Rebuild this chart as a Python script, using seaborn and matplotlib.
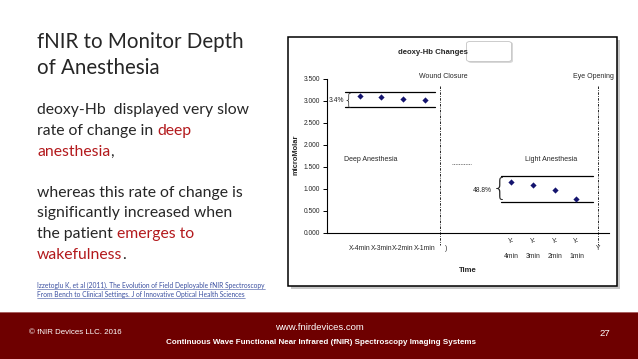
import numpy as np
import pandas as pd
import matplotlib
matplotlib.use("Agg")
import matplotlib.pyplot as plt
import seaborn as sns
from matplotlib.patches import Rectangle, FancyBboxPatch

# Data
categories = ["", "X-4min", "X-3min", "X-2min", "X-1min", ")", "", "",
              "Y-\n4min", "Y-\n3min", "Y-\n2min", "Y-\n1min", "Y"]
deoxy_hb = [np.nan, 3.11, 3.09, 3.04, 3.02, np.nan, np.nan, np.nan,
            1.15, 1.08, 0.98, 0.77, np.nan]
y_ticks = [0.0, 0.5, 1.0, 1.5, 2.0, 2.5, 3.0, 3.5]

W, H = 638, 359
NARROW = ["Liberation Sans", "DejaVu Sans"]

sns.set_style("white")
plt.rcParams["font.family"] = NARROW

fig = plt.figure(figsize=(W / 100, H / 100), dpi=100)
fig.patch.set_facecolor("white")


def fx(px):
    return px / W


def fy(py):
    return 1 - py / H


# Footer band
fig.patches.append(Rectangle((0, 0), 1, fy(311.5), transform=fig.transFigure,
                             facecolor="#6e0000", edgecolor="none", zorder=0))
fig.patches.append(Rectangle((0, fy(312.5)), 1, 1 / H, transform=fig.transFigure,
                             facecolor="#a86060", edgecolor="none", zorder=0))
fig.text(fx(29), fy(333), "\u00a9 fNIR Devices LLC. 2016", color="white",
         fontsize=5.7, va="center")
fig.text(fx(319), fy(327), "www.fnirdevices.com", color="white",
         fontsize=6.8, va="center", ha="center")
fig.text(fx(321), fy(342), "Continuous Wave Functional Near Infrared (fNIR) Spectroscopy Imaging Systems",
         color="white", fontsize=5.8, va="center", ha="center", weight="bold")
fig.text(fx(605), fy(333), "27", color="white", fontsize=6.8, va="center", ha="center")

# Chart frame with shadow
fig.patches.append(Rectangle((fx(291), fy(289)), fx(617) - fx(288), fy(37) - fy(286),
                             transform=fig.transFigure, facecolor="#c8c8c8",
                             edgecolor="none", zorder=0))
fig.patches.append(Rectangle((fx(288), fy(286)), fx(617) - fx(288), fy(37) - fy(286),
                             transform=fig.transFigure, facecolor="white",
                             edgecolor="black", lw=1.1, zorder=0))

# Small empty box next to the chart title
fig.patches.append(FancyBboxPatch((fx(468), fy(63)), fx(45), 21 / H,
                                  boxstyle="round,pad=0,rounding_size=0.006",
                                  transform=fig.transFigure, facecolor="#d8d8d8",
                                  edgecolor="none", zorder=1))
fig.patches.append(FancyBboxPatch((fx(466.5), fy(61.5)), fx(45), 20 / H,
                                  boxstyle="round,pad=0,rounding_size=0.006",
                                  transform=fig.transFigure, facecolor="white",
                                  edgecolor="#c4c4c4", lw=0.6, zorder=1))

# Chart
ax = fig.add_axes([fx(327), fy(232.7), fx(609) - fx(327), fy(78.7) - fy(232.7)])
ax.set_zorder(3)
ax.set_facecolor("none")
df = pd.DataFrame({"pos": np.arange(len(categories)), "value": deoxy_hb})
sns.scatterplot(data=df, x="pos", y="value", marker="D", color="#14146e",
                s=10, edgecolor="#14146e", linewidth=0, ax=ax, zorder=5)

ax.set_xlim(-0.5, len(categories) - 0.5)
ax.set_ylim(0, 3.5)
ax.set_xticks(np.arange(-0.5, len(categories), 1.0))
ax.set_xticklabels([])
ax.set_xticks(np.arange(len(categories)), labels=categories, minor=True)
ax.tick_params(axis="x", which="major", direction="out", length=3, width=0.7, color="black")
ax.tick_params(axis="x", which="minor", length=0, pad=11.7, labelsize=4.9)
ax.set_yticks(y_ticks, labels=[f"{v:.3f}" for v in y_ticks])
ax.tick_params(axis="y", direction="out", length=3, width=0.7, labelsize=4.8, pad=2,
               color="black", left=True)
for lab in ax.get_xticklabels(minor=True):
    lab.set_verticalalignment("center")
    lab.set_linespacing(2.45)
for side in ["top", "right"]:
    ax.spines[side].set_visible(False)
for side in ["left", "bottom"]:
    ax.spines[side].set_color("black")
    ax.spines[side].set_linewidth(0.8)
ax.set_xlabel("")
ax.set_ylabel("")

fig.text(fx(433), fy(52), "deoxy-Hb Changes", ha="center", va="center",
         fontsize=5.6, weight="bold", zorder=4)
fig.text(fx(296), fy(155), "microMolar", ha="center", va="center", rotation=90,
         fontsize=5.4, weight="bold", zorder=4)
fig.text(fx(468), fy(271), "Time", ha="center", va="center", fontsize=5.6,
         weight="bold", zorder=4)

# Annotations inside the plot
ax.text(4.86, 3.47, "Wound Closure", ha="center", va="bottom", fontsize=5.0)
ax.text(11.77, 3.47, "Eye Opening", ha="center", va="bottom", fontsize=5.0)
ax.text(1.5, 1.67, "Deep Anesthesia", ha="center", va="center", fontsize=5.0)
ax.text(9.84, 1.67, "Light Anesthesia", ha="center", va="center", fontsize=5.0)
ax.plot([5.28, 6.15], [1.56, 1.56], color="#555555", lw=0.6, ls=(0, (1, 1)))
for xv in [4.72, 12.0]:
    ax.plot([xv, xv], [3.33, -0.28], color="black", lw=0.6,
            ls=(0, (3, 1.5, 1, 1.5)), clip_on=False)

ax.plot([0.35, 4.49], [3.2, 3.2], color="black", lw=0.9)
ax.plot([0.35, 4.49], [2.85, 2.85], color="black", lw=0.9)
ax.plot([7.53, 11.77], [1.29, 1.29], color="black", lw=0.9)
ax.plot([7.53, 11.77], [0.69, 0.69], color="black", lw=0.9)
ax.text(0.48, 3.03, "{", ha="center", va="center", fontsize=11,
        family=["DejaVu Sans"], fontweight="light")
ax.text(7.46, 0.99, "{", ha="center", va="center", fontsize=18,
        family=["DejaVu Sans"], fontweight="light")
ax.text(0.31, 3.01, "3.4%", ha="right", va="center", fontsize=4.9)
ax.text(7.08, 0.96, "48.8%", ha="right", va="center", fontsize=4.9)

# Left-hand slide text
renderer = fig.canvas.get_renderer()
DARK = "#262626"
RED = "#b3191c"
SANS = ["Lato", "DejaVu Sans"]


def rich_line(px, py, parts, size):
    x = fx(px)
    for txt, col in parts:
        t = fig.text(x, fy(py), txt, color=col, fontsize=size, family=SANS, va="baseline")
        x += t.get_window_extent(renderer).width / fig.bbox.width


rich_line(37, 48, [("fNIR to Monitor Depth", DARK)], 14.8)
rich_line(37, 74.5, [("of Anesthesia", DARK)], 14.8)
body = [
    (114.3, [("deoxy-Hb  displayed very slow", DARK)]),
    (135.0, [("rate of change in ", DARK), ("deep", RED)]),
    (155.5, [("anesthesia", RED), (",", DARK)]),
    (196.7, [("whereas this rate of change is", DARK)]),
    (217.5, [("significantly increased when", DARK)]),
    (238.3, [("the patient ", DARK), ("emerges to", RED)]),
    (259.0, [("wakefulness", RED), (".", DARK)]),
]
for py, parts in body:
    rich_line(37, py, parts, 11.3)

cites = [(288.0, "Izzetoglu K, et al (2011). The Evolution of Field Deployable fNIR Spectroscopy"),
         (297.0, "From Bench to Clinical Settings. J of Innovative Optical Health Sciences")]
for py, txt in cites:
    t = fig.text(fx(37), fy(py), txt, color="#3a4fa0", fontsize=4.8, family=SANS,
                 va="baseline")
    w = t.get_window_extent(renderer).width / fig.bbox.width
    fig.add_artist(plt.Line2D([fx(37), fx(37) + w], [fy(py + 1.3)] * 2,
                              color="#3a4fa0", lw=0.4, transform=fig.transFigure))

fig.savefig("out.png", dpi=100)
